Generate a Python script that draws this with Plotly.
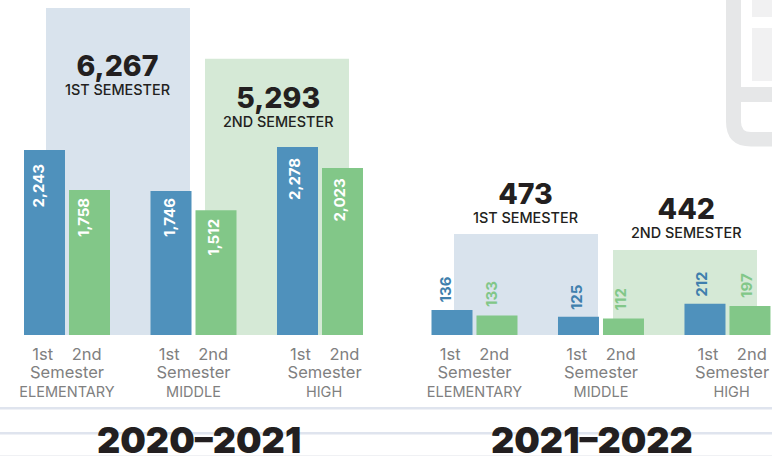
import plotly.graph_objects as go

W, H = 772, 456
BASE = 335

schools = ["ELEMENTARY", "MIDDLE", "HIGH"]
tick_pad = ["", "", "\u00a0\u00a0"]
semesters = ["1ST SEMESTER", "2ND SEMESTER"]

first_2021 = [2243, 1746, 2278]
second_2021 = [1758, 1512, 2023]
totals_2021 = [6267, 5293]

first_2122 = [136, 125, 212]
second_2122 = [133, 112, 197]
totals_2122 = [473, 442]
# In the picture two 2021-2022 shapes are not drawn to the scale of their printed label
first_2122_drawn = [170, 125, 212]
totals_2122_drawn = [473, 398]

BLUE, GREEN = "#4f91bc", "#82c788"
RECT_BLUE, RECT_GREEN = "#d9e3ed", "#d5e9d6"
DARK = "#231f20"
FONT = "Inter"


def hx(px):
    return px / W


def vy(px):
    return 1 - px / H


def tick_text(name, pad):
    big = "<span style='font-size:16.5px'>%s</span>"
    return (big % (pad + "1st\u00a0\u00a0\u00a0\u00a02nd") + "<br>" + big % (pad + "Semester")
            + "<br>" + pad + name)


tick_labels = [tick_text(n, p) for n, p in zip(schools, tick_pad)]

fig = go.Figure()

# background rectangles (lowest subplots)
fig.add_bar(x=semesters, y=totals_2021, width=144 / 159,
            marker=dict(color=[RECT_BLUE, RECT_GREEN], line_width=0),
            xaxis="x", yaxis="y", showlegend=False)
fig.add_bar(x=semesters, y=totals_2122_drawn, width=144 / 159,
            marker=dict(color=[RECT_BLUE, RECT_GREEN], line_width=0),
            xaxis="x2", yaxis="y2", showlegend=False)

# school bars
bw = 41 / 126.5
for xa, ya, a, b in [("x3", "y3", first_2021, second_2021),
                     ("x4", "y4", first_2122_drawn, second_2122)]:
    fig.add_bar(x=schools, y=a, width=bw, offset=-43 / 126.5,
                marker=dict(color=BLUE, line_width=0), xaxis=xa, yaxis=ya, showlegend=False)
    fig.add_bar(x=schools, y=b, width=bw, offset=2 / 126.5,
                marker=dict(color=GREEN, line_width=0), xaxis=xa, yaxis=ya, showlegend=False)

hidden = dict(visible=False, showgrid=False, zeroline=False, fixedrange=True)
ydom = [vy(BASE), 1]
layout = dict(
    width=W, height=H, margin=dict(l=0, r=0, t=0, b=0), autosize=False,
    paper_bgcolor="white", plot_bgcolor="rgba(0,0,0,0)", barmode="overlay",
    xaxis=dict(hidden, domain=[hx(38.5), hx(356.5)], range=[-0.5, 1.5], type="category", anchor="y"),
    yaxis=dict(hidden, domain=ydom, range=[0, BASE / 0.05218], anchor="x"),
    xaxis2=dict(hidden, domain=[hx(446.5), hx(764.5)], range=[-0.5, 1.5], type="category", anchor="y2"),
    yaxis2=dict(hidden, domain=ydom, range=[0, BASE / 0.2135], anchor="x2"),
)
tick = dict(type="category", showgrid=False, zeroline=False, showline=False, ticks="",
            tickmode="array", tickvals=schools, ticktext=tick_labels, tickangle=0,
            ticklabelstandoff=9, tickfont=dict(family=FONT, size=14.5, color="#808080"),
            fixedrange=True)
layout["xaxis3"] = dict(tick, domain=[hx(3.75), hx(383.25)], range=[-0.5, 2.5], anchor="y3")
layout["yaxis3"] = dict(hidden, domain=ydom, range=[0, BASE / 0.0825], anchor="x3")
layout["xaxis4"] = dict(tick, domain=[hx(411.25), 1], range=[-0.5, 2.352], anchor="y4")
layout["yaxis4"] = dict(hidden, domain=ydom, range=[0, BASE / 0.147], anchor="x4")

ann = []


def bar_label(xa, ya, cat, val, text, dx, shift, color, inside):
    ann.append(dict(xref=xa, yref=ya, x=cat, y=val, text=text, textangle=-90, showarrow=False,
                    xshift=dx, yshift=-shift if inside else shift,
                    yanchor="top" if inside else "bottom", xanchor="center",
                    font=dict(family=FONT, size=15, color=color, weight=700)))


gaps_first_2021 = [12, 5, 9]
gaps_second_2021 = [6, 7, 9]
nudge_first_2021 = [-6, -1.5, -3.5]
nudge_second_2021 = [-6, -2, -2.5]
nudge_first_2122 = [-6.5, -2, -3.5]
nudge_second_2122 = [-5.5, -2.5, -3.5]
for i, s in enumerate(schools):
    bar_label("x3", "y3", s, first_2021[i], f"{first_2021[i]:,}", -22.5 + nudge_first_2021[i],
              gaps_first_2021[i], "white", True)
    bar_label("x3", "y3", s, second_2021[i], f"{second_2021[i]:,}", 22.5 + nudge_second_2021[i],
              gaps_second_2021[i], "white", True)
    bar_label("x4", "y4", s, first_2122_drawn[i], str(first_2122[i]), -22.5 + nudge_first_2122[i],
              5, "#3f7fad", False)
    bar_label("x4", "y4", s, second_2122[i], str(second_2122[i]), 22.5 + nudge_second_2122[i],
              6, GREEN, False)


def note(cx, cy, text, size, weight, color=DARK, height=None):
    ann.append(dict(xref="paper", yref="paper", x=hx(cx), y=vy(cy), text=text, showarrow=False,
                    xanchor="center", yanchor="middle", height=height,
                    font=dict(family=FONT, size=size, color=color, weight=weight)))


for cx, cy, t, s in [(118, 66, totals_2021[0], semesters[0]), (278, 98, totals_2021[1], semesters[1]),
                     (525, 194, totals_2122[0], semesters[0]), (686, 209, totals_2122[1], semesters[1])]:
    note(cx, cy + 7, f"<span style='font-size:28.5px;font-weight:800'>{t:,}</span><br>{s}", 14.4, 500)

note(199, 440, "2020\u20132021", 36, 900, height=34)
note(592, 440, "2021\u20132022", 36, 900, height=34)
layout["annotations"] = ann


def rect(x0, y0, x1, y1, color, layer="below"):
    return dict(type="rect", xref="paper", yref="paper", x0=hx(x0), x1=hx(x1), y0=vy(y0), y1=vy(y1),
                fillcolor=color, line_width=0, layer=layer)


def rounded(x0, y0, r):
    # open-right outline: from the top edge down the left side, around the corner, out to the right
    return (f"M {hx(x0)} {vy(y0[0])} L {hx(x0)} {vy(y0[1] - r)} "
            f"Q {hx(x0)} {vy(y0[1])} {hx(x0 + r)} {vy(y0[1])} L 1 {vy(y0[1])}")


GREY = "#e6e7e8"
shapes = [
    dict(type="path", xref="paper", yref="paper",
         path=rounded(726, (0, 146.5), 25) + f" L 1 {vy(132)} L {hx(751)} {vy(132)} "
              f"Q {hx(741)} {vy(132)} {hx(741)} {vy(122)} L {hx(741)} {vy(0)} Z",
         fillcolor=GREY, line_width=0, layer="below"),
    rect(741, 87, W, 102, GREY),
    rect(752, 0, W, 17, "#f1f1f2"),
    rect(752, 28, W, 81, "#f1f1f2"),
    rect(0, 407, W, 409.5, "#dfe4ee"),
    rect(0, 432, W, 434.5, "#dfe4ee"),
    rect(0, 455, W, 456, "#f0f1f4"),
]
layout["shapes"] = shapes
fig.update_layout(**layout)
fig.write_html("out.html", config={"displayModeBar": False},
               post_script="document.body.style.margin='0';document.documentElement.style.overflow='hidden';")
